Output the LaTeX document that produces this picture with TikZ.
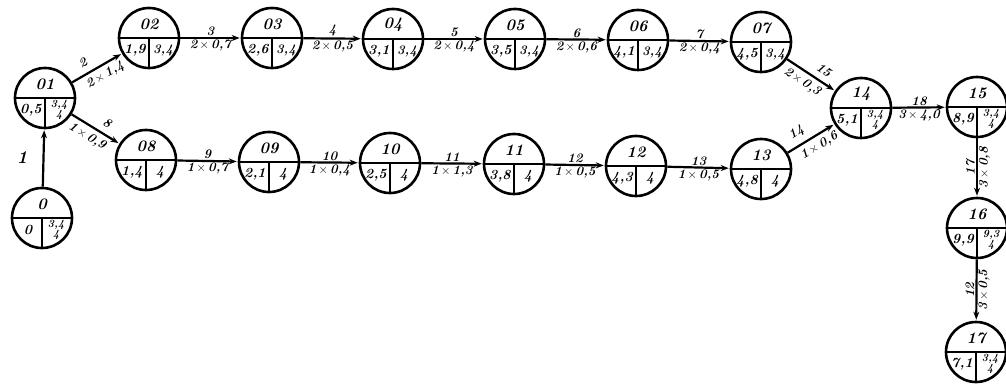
\documentclass[tikz,border=0pt]{standalone}
\usetikzlibrary{arrows.meta}
\begin{document}
\begin{tikzpicture}[x=1pt,y=-1pt,
  ev/.style={circle,draw,minimum size=60pt,inner sep=0pt,line width=2.6pt},
  div/.style={line width=2.2pt},
  lab/.style={inner sep=0pt,font=\fontsize{16}{16}\selectfont\bfseries\itshape},
  val/.style={inner sep=0pt,font=\fontsize{14}{14}\selectfont\bfseries\itshape},
  small/.style={inner sep=0pt,align=center,font=\fontsize{11}{10}\selectfont\bfseries\itshape},
  act/.style={line width=2.2pt,-{Stealth[length=8pt,width=6pt]},shorten >=1pt},
  elab/.style={inner sep=1pt,font=\fontsize{13}{13}\selectfont\bfseries\itshape}
]
\useasboundingbox (0,0) rectangle (1006,385);
\newcommand\evnode[6]{%
  \node[ev] (#1) at (#2,#3) {};
  \draw[div] (#1.west) -- (#1.east);
  \draw[div] (#1.center) -- (#1.south);
  \node[lab] at ([yshift=14pt]#1.center) {#4};
  \node[val] at ([xshift=-14pt,yshift=-12pt]#1.center) {#5};
  \node[small] at ([xshift=14pt,yshift=-12pt]#1.center) {#6};
}
\newcommand\bigbr{\fontsize{13}{13}\selectfont}
\evnode{n0}{42}{218}{0}{0}{3,4\\4}
\evnode{n01}{45}{98}{01}{0,5}{3,4\\4}
\evnode{n02}{149}{38}{02}{1,9}{\bigbr 3,4}
\evnode{n03}{272}{38}{03}{2,6}{\bigbr 3,4}
\evnode{n04}{393}{39}{04}{3,1}{\bigbr 3,4}
\evnode{n05}{515}{39}{05}{3,5}{\bigbr 3,4}
\evnode{n06}{638}{40}{06}{4,1}{\bigbr 3,4}
\evnode{n07}{761}{42}{07}{4,5}{\bigbr 3,4}
\evnode{n08}{146}{160}{08}{1,4}{\fontsize{14}{14}\selectfont 4}
\evnode{n09}{269}{162}{09}{2,1}{\fontsize{14}{14}\selectfont 4}
\evnode{n10}{390}{163}{10}{2,5}{\fontsize{14}{14}\selectfont 4}
\evnode{n11}{514}{164}{11}{3,8}{\fontsize{14}{14}\selectfont 4}
\evnode{n12}{636}{166}{12}{4,3}{\fontsize{14}{14}\selectfont 4}
\evnode{n13}{761}{169}{13}{4,8}{\fontsize{14}{14}\selectfont 4}
\evnode{n14}{861}{108}{14}{5,1}{3,4\\4}
\evnode{n15}{977}{107}{15}{8,9}{3,4\\4}
\evnode{n16}{977}{228}{16}{9,9}{9,3\\4}
\evnode{n17}{976}{352}{17}{7,1}{3,4\\4}
% activities
\draw[act] (n0) -- node[elab,left=14pt,pos=0.5,font=\fontsize{18}{18}\selectfont\bfseries\itshape]{1} (n01);
\draw[act] (n01) -- node[elab,sloped,above=5pt,pos=0.33]{2} node[elab,sloped,below=3pt,pos=0.56]{2\,$\times$\,1,4} (n02);
\draw[act] (n02) -- node[elab,above]{3} node[elab,below]{2\,$\times$\,0,7} (n03);
\draw[act] (n03) -- node[elab,above]{4} node[elab,below]{2\,$\times$\,0,5} (n04);
\draw[act] (n04) -- node[elab,above]{5} node[elab,below]{2\,$\times$\,0,4} (n05);
\draw[act] (n05) -- node[elab,above]{6} node[elab,below]{2\,$\times$\,0,6} (n06);
\draw[act] (n06) -- node[elab,above]{7} node[elab,below]{2\,$\times$\,0,4} (n07);
\draw[act] (n01) -- node[elab,sloped,above=5pt,pos=0.62]{8} node[elab,sloped,below=3pt,pos=0.44]{1\,$\times$\,0,9} (n08);
\draw[act] (n08) -- node[elab,above]{9} node[elab,below]{1\,$\times$\,0,7} (n09);
\draw[act] (n09) -- node[elab,above]{10} node[elab,below]{1\,$\times$\,0,4} (n10);
\draw[act] (n10) -- node[elab,above]{11} node[elab,below]{1\,$\times$\,1,3} (n11);
\draw[act] (n11) -- node[elab,above]{12} node[elab,below]{1\,$\times$\,0,5} (n12);
\draw[act] (n12) -- node[elab,above]{13} node[elab,below]{1\,$\times$\,0,5} (n13);
\draw[act] (n13) -- node[elab,sloped,above=5pt,pos=0.33]{14} node[elab,sloped,below=3pt,pos=0.56]{1\,$\times$\,0,6} (n14);
\draw[act] (n07) -- node[elab,sloped,above=5pt,pos=0.64]{15} node[elab,sloped,below=3pt,pos=0.44]{2\,$\times$\,0,3} (n14);
\draw[act] (n14) -- node[elab,above]{18} node[elab,below]{3\,$\times$\,4,0} (n15);
\draw[act] (n15) -- node[elab,rotate=90,anchor=south]{17} node[elab,rotate=90,anchor=north]{3\,$\times$\,0,8} (n16);
\draw[act] (n16) -- node[elab,rotate=90,anchor=south]{12} node[elab,rotate=90,anchor=north]{3\,$\times$\,0,5} (n17);
\end{tikzpicture}
\end{document}
